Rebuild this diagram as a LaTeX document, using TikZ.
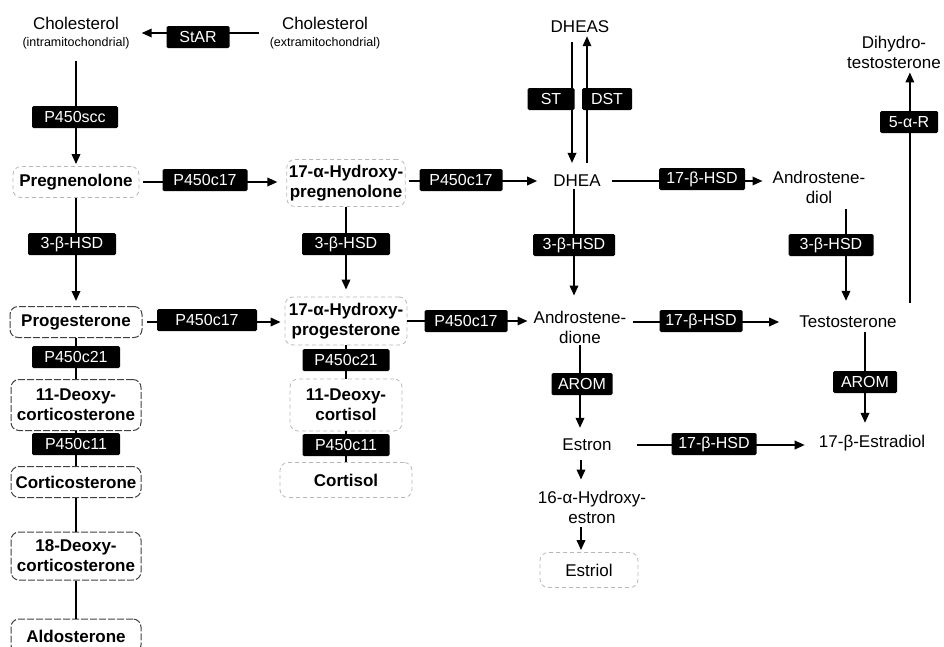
\documentclass[tikz,border=0pt]{standalone}
\usepackage{fontspec}
\setmainfont{Liberation Sans}
\usetikzlibrary{arrows.meta}
\begin{document}
\begin{tikzpicture}[x=1pt,y=-1pt,
 prod/.style={font=\fontsize{17}{20}\selectfont, align=center, inner sep=2pt},
 bprod/.style={font=\fontsize{17}{20}\selectfont\bfseries, align=center, inner sep=2pt},
 lbox/.style={draw=black!28, dash pattern=on 4pt off 3pt, rounded corners=8pt, line width=0.8pt},
 dbox/.style={draw=black!75, dash pattern=on 7pt off 2pt, rounded corners=8pt, line width=1pt},
 enz/.style={fill=black, text=white, font=\fontsize{16}{16}\selectfont, minimum width=85pt, minimum height=22pt, inner sep=0pt, rounded corners=1.5pt},
 conn/.style={line width=1.8pt},
 arr/.style={conn, -{Triangle[length=10pt,width=8.5pt]}}
]
\useasboundingbox (0,0) rectangle (944,646);
\clip (0,0) rectangle (944,646);

% ---------- products ----------
\node[prod] (chol1) at (76,33) {Cholesterol\\[-3pt]{\fontsize{12.5}{13}\selectfont (intramitochondrial)}};
\node[prod] (chol2) at (325,33) {Cholesterol\\[-3pt]{\fontsize{12.5}{13}\selectfont (extramitochondrial)}};

\node[bprod, lbox, minimum width=126pt, minimum height=31pt] (preg) at (76,182) {Pregnenolone};
\node[bprod, dbox, minimum width=132pt, minimum height=31pt] (prog) at (76,322) {Progesterone};
\node[bprod, dbox, minimum width=130pt, minimum height=51pt] (doc) at (76,405) {11-Deoxy-\\corticosterone};
\node[bprod, dbox, minimum width=130pt, minimum height=31pt] (cort) at (76,482) {Corticosterone};
\node[bprod, dbox, minimum width=130pt, minimum height=48pt] (hoc) at (76,556) {18-Deoxy-\\corticosterone};
\node[bprod, dbox, minimum width=130pt, minimum height=34pt] (aldo) at (76,636) {Aldosterone};

\node[bprod, lbox, minimum width=118pt, minimum height=47pt] (ohpreg) at (346,183) {17-α-Hydroxy-\\pregnenolone};
\node[bprod, lbox, minimum width=122pt, minimum height=48pt] (ohprog) at (346,321) {17-α-Hydroxy-\\progesterone};
\node[bprod, lbox, minimum width=112pt, minimum height=52pt] (dcol) at (346,405) {11-Deoxy-\\cortisol};
\node[bprod, lbox, minimum width=132pt, minimum height=35pt] (cortisol) at (346,480) {Cortisol};

\node[prod] (dheas) at (580,27) {DHEAS};
\node[prod] (dhea) at (577,181) {DHEA};
\node[prod] (adione) at (580,327) {Androstene-\\dione};
\node[prod] (estron) at (587,445) {Estron};
\node[prod] (ohestron) at (592,507) {16-α-Hydroxy-\\estron};
\node[prod, lbox, minimum width=98pt, minimum height=35pt] (estriol) at (589,570) {Estriol};

\node[prod] (adiol) at (819,187) {Androstene-\\diol};
\node[prod] (testo) at (848,322) {Testosterone};
\node[prod] (e2) at (872,443) {17-β-Estradiol};
\node[prod] (dht) at (894,52) {Dihydro-\\testosterone};

% ---------- connectors ----------
\draw[arr, shorten <=9pt, shorten >=10pt] (chol2) -- (chol1);
\draw[arr, shorten <=10pt, shorten >=2pt] (chol1) -- (preg);
\draw[arr, shorten >=5pt] (preg) -- (prog);
\draw[conn] (prog) -- (doc) (doc) -- (cort) (cort) -- (hoc) (hoc) -- (aldo);
\draw[arr, shorten <=4pt, shorten >=9pt] (preg.east) -- (preg.east -| ohpreg.west);
\draw[arr, shorten >=7pt] (ohpreg) -- (ohprog);
\draw[conn] (ohprog) -- (dcol) (dcol) -- (cortisol);
\draw[arr, shorten <=4pt, shorten >=4pt] (prog.east) -- (prog.east -| ohprog.west);

\draw[arr, shorten <=3pt, shorten >=14pt] (ohpreg.east |- dhea) -- (dhea.west);
\draw[arr, shorten >=4pt] (ohprog.east) -- (ohprog.east -| adione.west);
\draw[arr, shorten <=7pt, shorten >=10pt] ([xshift=-8pt]dheas.south) -- ([xshift=-8pt]dheas.south |- dhea.north);
\draw[arr, shorten <=10pt, shorten >=1pt] ([xshift=7pt]dheas.south |- dhea.north) -- ([xshift=7pt]dheas.south);
\draw[arr, shorten >=13pt] ([xshift=-3pt]dhea.south) -- ([xshift=-3pt]dhea.south |- adione.north);
\draw[arr, shorten <=9pt, shorten >=8pt] (dhea.east) -- (dhea.east -| adiol.west);
\draw[arr, shorten >=9pt] (adione.south) -- (adione.south |- estron.north);
\draw[arr, shorten <=4pt, shorten >=18pt] (adione.east |- testo) -- (testo.west);
\draw[arr, shorten <=4pt, shorten >=13pt] ([xshift=-2pt]adiol.south -| testo) -- ([xshift=-2pt]testo.north);
\draw[arr, shorten <=2pt, shorten >=10pt] ([xshift=17pt]testo.south) -- ([xshift=17pt]testo.south |- e2.north);
\draw[arr, shorten <=23pt, shorten >=12pt] (estron.east) -- (estron.east -| e2.west);
\draw[arr, shorten <=7pt, shorten >=9pt] ([xshift=-6pt]estron.south) -- ([xshift=-6pt]estron.south |- ohestron.north);
\draw[arr, shorten <=2pt, shorten >=2pt] ([xshift=-11pt]ohestron.south) -- ([xshift=-11pt]ohestron.south |- estriol.north);
\draw[arr, shorten >=2pt] ([shift={(11,-11)}]testo.north east) -- ([xshift=11pt]testo.north east |- dht.south);

% ---------- enzymes ----------
\node[enz, minimum width=63pt] (star) at (198,37) {StAR};
\node[enz, minimum width=86pt] (scc) at (75,117) {P450scc};
\node[enz] (c17a) at (205,180) {P450c17};
\node[enz, minimum width=83pt] (c17b) at (461,180) {P450c17};
\node[enz, minimum width=100pt] (c17c) at (207,320) {P450c17};
\node[enz, minimum width=83pt] (c17d) at (466,321) {P450c17};
\node[enz, minimum width=88pt] (hsd3a) at (72,244) {3-β-HSD};
\node[enz, minimum width=88pt] (hsd3b) at (346,244) {3-β-HSD};
\node[enz, minimum width=82pt] (hsd3c) at (574,245) {3-β-HSD};
\node[enz] (hsd3d) at (831,245) {3-β-HSD};
\node[enz, minimum width=86pt] (hsd17a) at (702,179) {17-β-HSD};
\node[enz, minimum width=83pt] (hsd17b) at (701,321) {17-β-HSD};
\node[enz] (hsd17c) at (714,444) {17-β-HSD};
\node[enz, minimum width=88pt] (c21a) at (76,357) {P450c21};
\node[enz, minimum width=87pt] (c21b) at (346,360) {P450c21};
\node[enz, minimum width=88pt] (c11a) at (76,444) {P450c11};
\node[enz, minimum width=87pt] (c11b) at (346,445) {P450c11};
\node[enz, minimum width=47pt] (st) at (551,99) {ST};
\node[enz, minimum width=50pt] (dst) at (607,99) {DST};
\node[enz, minimum width=61pt] (aroma) at (582,384) {AROM};
\node[enz, minimum width=64pt] (aromb) at (865,382) {AROM};
\node[enz, minimum width=58pt] (red5) at (909,122) {5-α-R};
\end{tikzpicture}
\end{document}
